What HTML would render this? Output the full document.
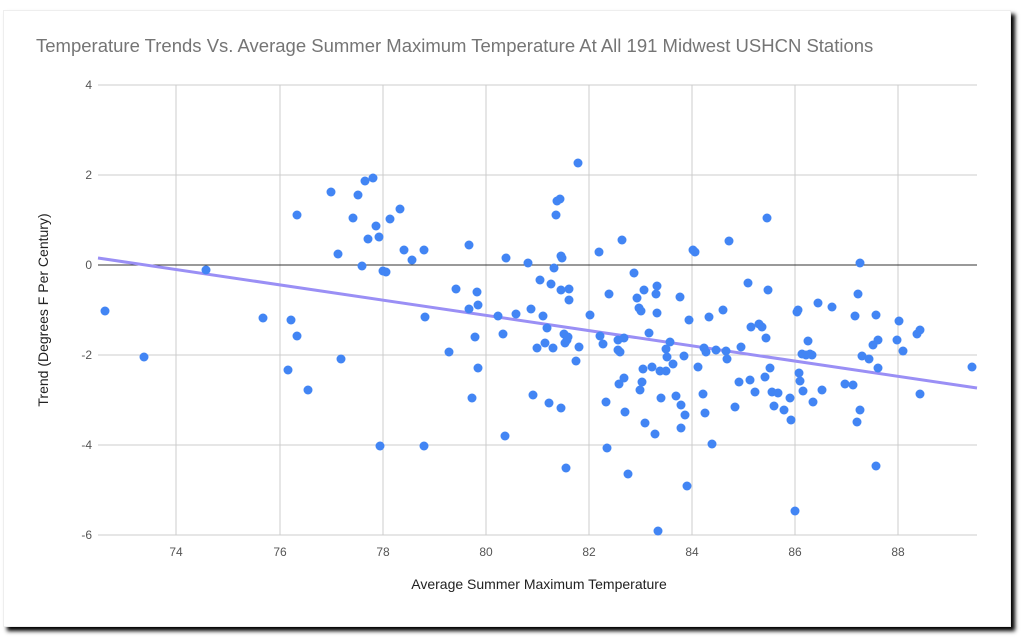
<!DOCTYPE html>
<html><head><meta charset="utf-8"><style>
html,body{margin:0;padding:0;background:#fff;width:1024px;height:640px;overflow:hidden}
.card{position:absolute;left:3px;top:10px;width:1006px;height:615px;background:#fff;border:1px solid #eee;box-shadow:4px 4px 4px #000}
svg{position:absolute;left:0;top:0}
text{font-family:"Liberation Sans",sans-serif}
</style></head><body>
<div class="card"></div>
<svg width="1024" height="640" xmlns="http://www.w3.org/2000/svg">
<text x="36" y="52" font-size="18.5" fill="#757575">Temperature Trends Vs. Average Summer Maximum Temperature At All 191 Midwest USHCN Stations</text>
<g stroke="#ccc" stroke-width="1">
<line x1="98" y1="85" x2="977" y2="85"/><line x1="98" y1="175" x2="977" y2="175"/>
<line x1="98" y1="355" x2="977" y2="355"/><line x1="98" y1="445" x2="977" y2="445"/>
<line x1="98" y1="535" x2="977" y2="535"/>
<line x1="176" y1="85" x2="176" y2="535"/><line x1="280" y1="85" x2="280" y2="535"/>
<line x1="383" y1="85" x2="383" y2="535"/><line x1="486" y1="85" x2="486" y2="535"/>
<line x1="589" y1="85" x2="589" y2="535"/><line x1="692" y1="85" x2="692" y2="535"/>
<line x1="795" y1="85" x2="795" y2="535"/><line x1="898" y1="85" x2="898" y2="535"/>
</g>
<line x1="98" y1="265" x2="977" y2="265" stroke="#333" stroke-width="1"/>
<g font-size="12" fill="#555" text-anchor="end">
<text x="92" y="89">4</text><text x="92" y="179">2</text><text x="92" y="269">0</text>
<text x="92" y="359">-2</text><text x="92" y="449">-4</text><text x="92" y="539">-6</text>
</g>
<g font-size="12" fill="#555" text-anchor="middle">
<text x="176" y="556">74</text><text x="280" y="556">76</text><text x="383" y="556">78</text>
<text x="486" y="556">80</text><text x="589" y="556">82</text><text x="692" y="556">84</text>
<text x="795" y="556">86</text><text x="898" y="556">88</text>
</g>
<text x="539" y="589" font-size="14" fill="#222" text-anchor="middle">Average Summer Maximum Temperature</text>
<text transform="translate(48,310) rotate(-90)" font-size="14" fill="#222" text-anchor="middle">Trend (Degrees F Per Century)</text>
<line x1="98" y1="258" x2="977" y2="388" stroke="#9a8ff5" stroke-width="3"/>
<g fill="#4285f4">
<circle cx="105" cy="311" r="4.5"/><circle cx="144" cy="357" r="4.5"/><circle cx="206" cy="270" r="4.5"/><circle cx="263" cy="318" r="4.5"/><circle cx="288" cy="370" r="4.5"/><circle cx="291" cy="320" r="4.5"/><circle cx="297" cy="215" r="4.5"/><circle cx="297" cy="336" r="4.5"/><circle cx="308" cy="390" r="4.5"/><circle cx="331" cy="192" r="4.5"/><circle cx="338" cy="254" r="4.5"/><circle cx="341" cy="359" r="4.5"/><circle cx="353" cy="218" r="4.5"/><circle cx="358" cy="195" r="4.5"/><circle cx="362" cy="266" r="4.5"/><circle cx="365" cy="181" r="4.5"/><circle cx="368" cy="239" r="4.5"/><circle cx="373" cy="178" r="4.5"/><circle cx="376" cy="226" r="4.5"/><circle cx="379" cy="237" r="4.5"/><circle cx="380" cy="446" r="4.5"/><circle cx="383" cy="271" r="4.5"/><circle cx="386" cy="272" r="4.5"/><circle cx="390" cy="219" r="4.5"/><circle cx="400" cy="209" r="4.5"/><circle cx="404" cy="250" r="4.5"/><circle cx="412" cy="260" r="4.5"/><circle cx="424" cy="250" r="4.5"/><circle cx="425" cy="317" r="4.5"/><circle cx="424" cy="446" r="4.5"/><circle cx="449" cy="352" r="4.5"/><circle cx="456" cy="289" r="4.5"/><circle cx="469" cy="245" r="4.5"/><circle cx="469" cy="309" r="4.5"/><circle cx="472" cy="398" r="4.5"/><circle cx="475" cy="337" r="4.5"/><circle cx="477" cy="292" r="4.5"/><circle cx="478" cy="368" r="4.5"/><circle cx="478" cy="305" r="4.5"/><circle cx="498" cy="316" r="4.5"/><circle cx="503" cy="334" r="4.5"/><circle cx="506" cy="258" r="4.5"/><circle cx="505" cy="436" r="4.5"/><circle cx="516" cy="314" r="4.5"/><circle cx="528" cy="263" r="4.5"/><circle cx="531" cy="309" r="4.5"/><circle cx="533" cy="395" r="4.5"/><circle cx="537" cy="348" r="4.5"/><circle cx="540" cy="280" r="4.5"/><circle cx="543" cy="316" r="4.5"/><circle cx="545" cy="343" r="4.5"/><circle cx="547" cy="328" r="4.5"/><circle cx="549" cy="403" r="4.5"/><circle cx="551" cy="284" r="4.5"/><circle cx="553" cy="348" r="4.5"/><circle cx="554" cy="268" r="4.5"/><circle cx="556" cy="215" r="4.5"/><circle cx="557" cy="201" r="4.5"/><circle cx="560" cy="199" r="4.5"/><circle cx="561" cy="256" r="4.5"/><circle cx="561" cy="408" r="4.5"/><circle cx="561" cy="290" r="4.5"/><circle cx="562" cy="258" r="4.5"/><circle cx="564" cy="334" r="4.5"/><circle cx="565" cy="343" r="4.5"/><circle cx="566" cy="468" r="4.5"/><circle cx="567" cy="340" r="4.5"/><circle cx="568" cy="337" r="4.5"/><circle cx="569" cy="300" r="4.5"/><circle cx="569" cy="289" r="4.5"/><circle cx="576" cy="361" r="4.5"/><circle cx="578" cy="163" r="4.5"/><circle cx="579" cy="347" r="4.5"/><circle cx="590" cy="315" r="4.5"/><circle cx="599" cy="252" r="4.5"/><circle cx="600" cy="336" r="4.5"/><circle cx="603" cy="344" r="4.5"/><circle cx="606" cy="402" r="4.5"/><circle cx="607" cy="448" r="4.5"/><circle cx="609" cy="294" r="4.5"/><circle cx="618" cy="340" r="4.5"/><circle cx="618" cy="350" r="4.5"/><circle cx="619" cy="384" r="4.5"/><circle cx="620" cy="352" r="4.5"/><circle cx="622" cy="240" r="4.5"/><circle cx="624" cy="338" r="4.5"/><circle cx="624" cy="378" r="4.5"/><circle cx="625" cy="412" r="4.5"/><circle cx="628" cy="474" r="4.5"/><circle cx="634" cy="273" r="4.5"/><circle cx="637" cy="298" r="4.5"/><circle cx="639" cy="308" r="4.5"/><circle cx="640" cy="390" r="4.5"/><circle cx="641" cy="311" r="4.5"/><circle cx="642" cy="382" r="4.5"/><circle cx="643" cy="369" r="4.5"/><circle cx="644" cy="290" r="4.5"/><circle cx="645" cy="423" r="4.5"/><circle cx="649" cy="333" r="4.5"/><circle cx="652" cy="367" r="4.5"/><circle cx="655" cy="434" r="4.5"/><circle cx="656" cy="294" r="4.5"/><circle cx="657" cy="286" r="4.5"/><circle cx="657" cy="313" r="4.5"/><circle cx="658" cy="531" r="4.5"/><circle cx="660" cy="371" r="4.5"/><circle cx="661" cy="398" r="4.5"/><circle cx="666" cy="371" r="4.5"/><circle cx="666" cy="349" r="4.5"/><circle cx="667" cy="357" r="4.5"/><circle cx="670" cy="342" r="4.5"/><circle cx="673" cy="364" r="4.5"/><circle cx="676" cy="396" r="4.5"/><circle cx="680" cy="297" r="4.5"/><circle cx="681" cy="405" r="4.5"/><circle cx="681" cy="428" r="4.5"/><circle cx="684" cy="356" r="4.5"/><circle cx="685" cy="415" r="4.5"/><circle cx="687" cy="486" r="4.5"/><circle cx="689" cy="320" r="4.5"/><circle cx="693" cy="250" r="4.5"/><circle cx="695" cy="252" r="4.5"/><circle cx="698" cy="367" r="4.5"/><circle cx="703" cy="394" r="4.5"/><circle cx="704" cy="348" r="4.5"/><circle cx="705" cy="413" r="4.5"/><circle cx="706" cy="352" r="4.5"/><circle cx="709" cy="317" r="4.5"/><circle cx="712" cy="444" r="4.5"/><circle cx="716" cy="350" r="4.5"/><circle cx="723" cy="310" r="4.5"/><circle cx="726" cy="351" r="4.5"/><circle cx="727" cy="359" r="4.5"/><circle cx="729" cy="241" r="4.5"/><circle cx="735" cy="407" r="4.5"/><circle cx="739" cy="382" r="4.5"/><circle cx="741" cy="347" r="4.5"/><circle cx="748" cy="283" r="4.5"/><circle cx="750" cy="380" r="4.5"/><circle cx="751" cy="327" r="4.5"/><circle cx="755" cy="392" r="4.5"/><circle cx="759" cy="324" r="4.5"/><circle cx="762" cy="327" r="4.5"/><circle cx="765" cy="377" r="4.5"/><circle cx="766" cy="338" r="4.5"/><circle cx="767" cy="218" r="4.5"/><circle cx="768" cy="290" r="4.5"/><circle cx="770" cy="368" r="4.5"/><circle cx="772" cy="392" r="4.5"/><circle cx="774" cy="406" r="4.5"/><circle cx="778" cy="393" r="4.5"/><circle cx="784" cy="410" r="4.5"/><circle cx="790" cy="398" r="4.5"/><circle cx="791" cy="420" r="4.5"/><circle cx="795" cy="511" r="4.5"/><circle cx="797" cy="312" r="4.5"/><circle cx="798" cy="310" r="4.5"/><circle cx="799" cy="373" r="4.5"/><circle cx="800" cy="381" r="4.5"/><circle cx="802" cy="354" r="4.5"/><circle cx="803" cy="391" r="4.5"/><circle cx="806" cy="355" r="4.5"/><circle cx="808" cy="341" r="4.5"/><circle cx="810" cy="354" r="4.5"/><circle cx="812" cy="355" r="4.5"/><circle cx="813" cy="402" r="4.5"/><circle cx="818" cy="303" r="4.5"/><circle cx="822" cy="390" r="4.5"/><circle cx="832" cy="307" r="4.5"/><circle cx="845" cy="384" r="4.5"/><circle cx="853" cy="385" r="4.5"/><circle cx="855" cy="316" r="4.5"/><circle cx="857" cy="422" r="4.5"/><circle cx="858" cy="294" r="4.5"/><circle cx="860" cy="263" r="4.5"/><circle cx="860" cy="410" r="4.5"/><circle cx="862" cy="356" r="4.5"/><circle cx="869" cy="359" r="4.5"/><circle cx="873" cy="345" r="4.5"/><circle cx="876" cy="466" r="4.5"/><circle cx="876" cy="315" r="4.5"/><circle cx="878" cy="340" r="4.5"/><circle cx="878" cy="368" r="4.5"/><circle cx="897" cy="340" r="4.5"/><circle cx="899" cy="321" r="4.5"/><circle cx="903" cy="351" r="4.5"/><circle cx="917" cy="334" r="4.5"/><circle cx="920" cy="330" r="4.5"/><circle cx="920" cy="394" r="4.5"/><circle cx="972" cy="367" r="4.5"/>
</g>
</svg>
</body></html>
